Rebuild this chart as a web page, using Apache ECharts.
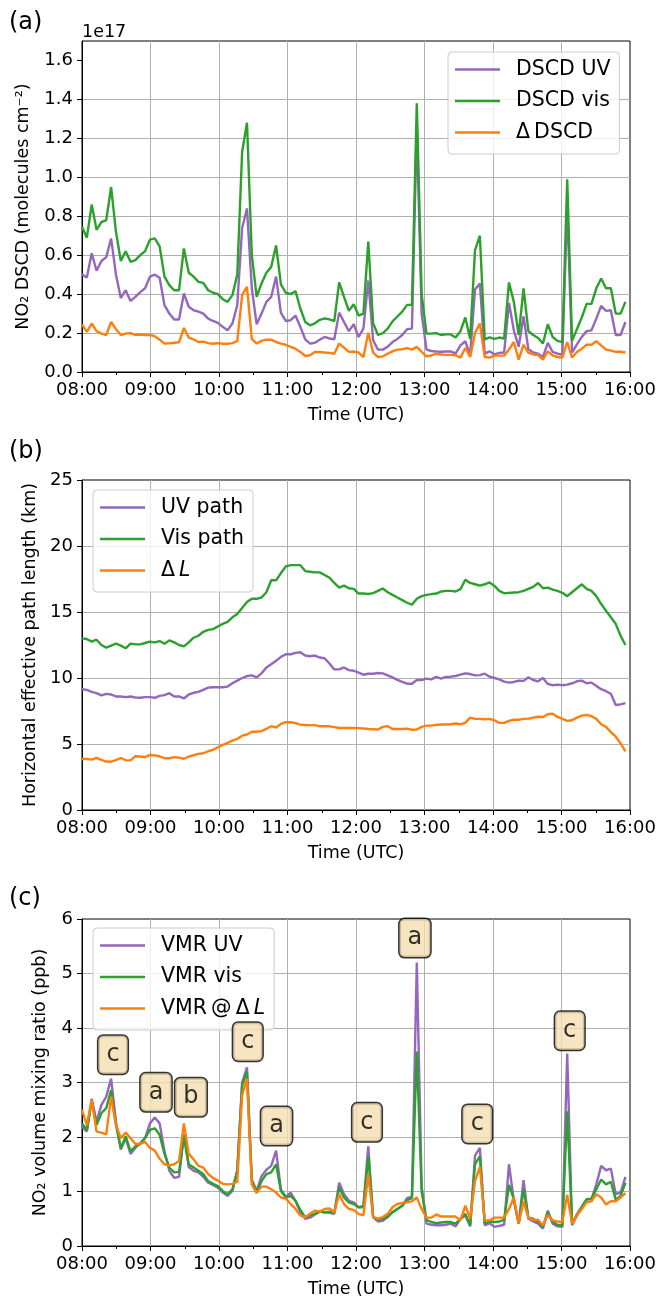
<!DOCTYPE html>
<html><head><meta charset="utf-8">
<script src="https://cdn.jsdelivr.net/npm/echarts@6/dist/echarts.min.js"></script>
<style>html,body{margin:0;padding:0;background:#fff}#c{width:659px;height:1299px}</style>
</head><body><div id="c"></div>
<script>
// ---- sampling grid: one scan every ~4.25 min from 08:00 ----
const STEP_MIN = 4.25;

// ---- panel (a): NO2 DSCD (1e17 molecules cm-2) ----
const dscdUV = [
0.50,0.485,0.61,0.52,0.57,0.59,0.686,0.50,0.38,0.42,
0.365,0.386,0.41,0.43,0.49,0.50,0.484,0.343,0.30,0.27,
0.27,0.403,0.335,0.317,0.31,0.30,0.274,0.262,0.252,0.232,
0.214,0.25,0.343,0.74,0.84,0.43,0.245,0.30,0.36,0.386,
0.49,0.304,0.262,0.266,0.29,0.232,0.168,0.146,0.15,0.166,
0.18,0.172,0.168,0.305,0.257,0.21,0.245,0.18,0.223,0.47,
0.163,0.115,0.115,0.13,0.154,0.17,0.19,0.22,0.223,1.26,
0.30,0.115,0.108,0.105,0.104,0.105,0.106,0.094,0.137,0.158,
0.086,0.424,0.455,0.094,0.106,0.09,0.098,0.10,0.355,0.214,
0.13,0.286,0.117,0.10,0.094,0.077,0.15,0.103,0.094,0.09,
0.85,0.10,0.142,0.18,0.21,0.214,0.274,0.34,0.314,0.317,
0.19,0.19,0.257];
const dscdVis = [
0.746,0.69,0.86,0.73,0.77,0.78,0.95,0.72,0.57,0.62,
0.566,0.575,0.60,0.62,0.68,0.686,0.645,0.49,0.446,0.42,
0.42,0.635,0.51,0.49,0.463,0.458,0.42,0.407,0.40,0.374,
0.36,0.395,0.50,1.13,1.28,0.60,0.386,0.455,0.51,0.54,
0.65,0.45,0.407,0.40,0.415,0.326,0.257,0.24,0.25,0.268,
0.275,0.27,0.262,0.46,0.386,0.314,0.348,0.29,0.30,0.67,
0.25,0.19,0.20,0.223,0.26,0.285,0.31,0.345,0.345,1.38,
0.40,0.197,0.197,0.20,0.19,0.193,0.193,0.177,0.21,0.28,
0.17,0.626,0.70,0.168,0.178,0.17,0.177,0.172,0.46,0.36,
0.19,0.43,0.21,0.19,0.175,0.146,0.245,0.18,0.16,0.153,
0.99,0.16,0.22,0.28,0.35,0.35,0.43,0.48,0.43,0.43,
0.30,0.30,0.36];
const dscdDelta = [
0.245,0.206,0.249,0.21,0.197,0.19,0.257,0.22,0.19,0.197,
0.20,0.19,0.192,0.19,0.19,0.184,0.166,0.146,0.147,0.15,
0.153,0.226,0.177,0.168,0.154,0.156,0.148,0.145,0.148,0.145,
0.145,0.148,0.158,0.395,0.437,0.17,0.146,0.16,0.166,0.166,
0.154,0.146,0.14,0.129,0.12,0.103,0.082,0.086,0.103,0.103,
0.10,0.098,0.094,0.146,0.125,0.103,0.105,0.10,0.077,0.202,
0.10,0.077,0.08,0.094,0.106,0.115,0.117,0.123,0.115,0.129,
0.103,0.08,0.085,0.094,0.09,0.088,0.088,0.086,0.074,0.123,
0.077,0.20,0.249,0.077,0.074,0.084,0.084,0.084,0.115,0.154,
0.063,0.14,0.098,0.09,0.087,0.063,0.106,0.085,0.077,0.074,
0.154,0.074,0.103,0.12,0.14,0.14,0.158,0.137,0.115,0.11,
0.103,0.105,0.10];

// ---- panel (b): horizontal effective path length (km) ----
const pathUV = [
9.15,9.1,8.95,8.85,8.68,8.8,8.75,8.6,8.6,8.55,
8.6,8.52,8.5,8.55,8.55,8.5,8.65,8.7,8.85,8.6,
8.6,8.45,8.75,8.88,8.95,9.1,9.27,9.3,9.3,9.3,
9.35,9.6,9.8,10.0,10.15,10.2,10.05,10.35,10.8,11.05,
11.3,11.6,11.8,11.8,11.9,11.95,11.7,11.65,11.7,11.55,
11.5,11.1,10.65,10.65,10.8,10.6,10.55,10.4,10.25,10.32,
10.32,10.38,10.35,10.2,10.05,9.85,9.7,9.57,9.57,9.85,
9.85,9.95,9.9,10.08,9.95,10.08,10.1,10.15,10.25,10.35,
10.3,10.2,10.22,10.33,10.1,10.0,9.9,9.72,9.65,9.7,
9.8,9.78,10.05,9.85,9.75,10.0,9.55,9.45,9.5,9.45,
9.5,9.6,9.75,9.8,9.6,9.65,9.4,9.15,9.0,8.8,
7.95,8.0,8.1];
const pathVis = [
13.0,12.95,12.76,12.9,12.5,12.3,12.45,12.6,12.45,12.25,
12.6,12.55,12.55,12.65,12.75,12.7,12.8,12.6,12.85,12.7,
12.5,12.4,12.7,13.05,13.2,13.5,13.65,13.7,13.9,14.1,
14.25,14.6,14.85,15.3,15.75,16.0,16.0,16.1,16.5,17.4,
17.4,17.95,18.45,18.55,18.55,18.55,18.1,18.05,18.0,18.0,
17.8,17.6,17.2,16.85,17.0,16.8,16.75,16.4,16.4,16.36,
16.43,16.6,16.78,16.5,16.3,16.1,15.9,15.7,15.55,16.0,
16.2,16.3,16.35,16.4,16.55,16.6,16.6,16.55,16.73,17.44,
17.2,17.1,17.0,17.1,17.24,16.98,16.6,16.42,16.45,16.48,
16.5,16.6,16.75,16.9,17.2,16.8,16.85,16.7,16.6,16.45,
16.2,16.5,16.8,17.1,16.75,16.6,16.2,15.6,15.1,14.6,
14.1,13.2,12.5];
const pathDelta = [
3.86,3.86,3.82,3.95,3.8,3.67,3.66,3.78,3.94,3.78,
3.76,4.07,4.05,4.0,4.17,4.14,4.07,3.92,3.92,4.0,
3.97,3.88,4.05,4.15,4.25,4.3,4.45,4.55,4.75,4.93,
5.08,5.25,5.38,5.63,5.72,5.93,5.93,5.98,6.15,6.35,
6.25,6.52,6.65,6.65,6.58,6.47,6.44,6.43,6.43,6.34,
6.34,6.34,6.28,6.21,6.21,6.21,6.21,6.2,6.17,6.14,
6.12,6.1,6.3,6.35,6.14,6.14,6.14,6.16,6.08,6.1,
6.3,6.39,6.39,6.45,6.48,6.48,6.5,6.55,6.5,6.6,
7.0,6.9,6.9,6.88,6.9,6.8,6.6,6.6,6.75,6.84,
6.84,6.9,6.92,7.0,7.06,7.05,7.25,7.3,7.05,6.9,
6.75,6.8,7.0,7.15,7.2,7.1,6.9,6.5,6.3,5.9,
5.55,5.05,4.45];

// ---- panel (c): NO2 volume mixing ratio (ppb) ----
const vmrUV = [
2.19,2.1,2.7,2.28,2.59,2.74,3.07,2.28,1.77,1.98,
1.69,1.8,1.89,1.98,2.25,2.36,2.25,1.74,1.38,1.25,
1.27,2.05,1.45,1.38,1.35,1.27,1.16,1.12,1.07,0.98,
0.92,1.01,1.4,3.0,3.28,1.22,1.01,1.28,1.4,1.47,
1.75,1.04,0.9,0.98,0.83,0.62,0.5,0.52,0.58,0.63,
0.62,0.61,0.59,1.16,0.95,0.83,0.8,0.71,0.74,1.83,
0.53,0.45,0.46,0.53,0.62,0.68,0.74,0.88,0.9,5.2,
1.1,0.41,0.39,0.38,0.38,0.39,0.41,0.36,0.5,0.56,
0.36,1.66,1.8,0.38,0.42,0.35,0.37,0.39,1.5,0.83,
0.41,1.21,0.5,0.45,0.41,0.32,0.65,0.41,0.36,0.35,
3.53,0.38,0.56,0.71,0.85,0.86,1.13,1.47,1.39,1.42,
0.95,0.98,1.27];
const vmrVis = [
2.25,2.13,2.65,2.22,2.44,2.53,2.86,2.22,1.8,2.01,
1.74,1.83,1.87,1.98,2.13,2.16,2.04,1.69,1.44,1.35,
1.36,2.01,1.5,1.44,1.38,1.32,1.19,1.14,1.1,1.01,
0.95,1.04,1.37,2.95,3.19,1.19,0.98,1.19,1.32,1.35,
1.5,1.01,0.89,0.92,0.83,0.66,0.53,0.56,0.59,0.63,
0.62,0.63,0.62,1.07,0.89,0.8,0.77,0.71,0.71,1.65,
0.53,0.48,0.5,0.54,0.62,0.68,0.74,0.84,0.88,3.57,
1.0,0.48,0.44,0.42,0.43,0.44,0.44,0.41,0.5,0.59,
0.38,1.5,1.65,0.41,0.45,0.44,0.45,0.48,1.12,0.86,
0.41,1.04,0.52,0.5,0.44,0.35,0.62,0.44,0.39,0.38,
2.47,0.41,0.58,0.72,0.86,0.87,1.04,1.22,1.13,1.18,
0.85,0.92,1.16];
const vmrDelta = [
2.5,2.22,2.68,2.1,2.08,2.05,2.74,2.22,1.98,2.08,
1.98,1.87,1.88,1.91,1.8,1.75,1.6,1.5,1.48,1.5,
1.56,2.25,1.69,1.59,1.47,1.44,1.32,1.25,1.2,1.14,
1.13,1.14,1.18,2.77,3.07,1.13,0.97,1.09,1.09,1.04,
0.98,0.89,0.87,0.77,0.68,0.56,0.53,0.59,0.65,0.63,
0.68,0.69,0.62,0.95,0.77,0.68,0.66,0.59,0.56,1.32,
0.53,0.5,0.53,0.59,0.71,0.77,0.79,0.8,0.82,0.89,
0.68,0.52,0.52,0.58,0.54,0.54,0.54,0.54,0.47,0.74,
0.5,1.19,1.45,0.47,0.47,0.52,0.52,0.52,0.68,0.89,
0.41,0.82,0.52,0.48,0.48,0.38,0.57,0.47,0.45,0.44,
0.94,0.41,0.56,0.68,0.8,0.82,0.95,0.89,0.76,0.82,
0.82,0.89,0.97];

// ---- annotation boxes in panel (c) ----
const annTimes  = [8.4525, 9.08, 9.59, 10.42, 10.84, 12.16, 12.86, 13.77, 15.12];
const annValues = [3.51, 2.82, 2.73, 3.75, 2.2, 2.27, 5.65, 2.24, 3.95];
const annLabels = ['c','a','b','c','a','c','a','c','c'];

// ---- tick labels ----
const yTicksA = [0, 0.2, 0.4, 0.6, 0.8, 1.0, 1.2, 1.4, 1.6];

const times = dscdUV.map((_, i) => 8 + i * STEP_MIN / 60);
const pair = arr => arr.map((v, i) => [times[i], v]);

const FONT = 'DejaVu Sans';
const C_UV = '#9467bd', C_VIS = '#2ca02c', C_D = '#ff7f0e';
const GRID_TOPS = [41, 480, 919];
const GRID_H = [331, 330, 330];

const grid = GRID_TOPS.map((t, i) => ({
  left: 82, top: t, width: 548, height: GRID_H[i],
  show: true, borderColor: '#000', borderWidth: 1, backgroundColor: 'transparent'
}));

const hh = v => (v < 10 ? '0' : '') + Math.round(v) + ':00';
const xAxis = [0,1,2].map(g => ({
  type: 'value', gridIndex: g, min: 8, max: 16, interval: 1,
  name: 'Time (UTC)', nameLocation: 'middle', nameGap: 34,
  nameTextStyle: { fontFamily: FONT, fontSize: 17.5, color: '#000' },
  axisLine: { show: true, onZero: false, lineStyle: { color: '#000', width: 1 } },
  axisTick: { show: true, length: 5, lineStyle: { color: '#000', width: 1 } },
  minorTick: { show: true, splitNumber: 2, length: 3, lineStyle: { color: '#000', width: 1 } },
  axisLabel: { formatter: hh, fontFamily: FONT, fontSize: 18, color: '#000', margin: 9 },
  splitLine: { show: true, showMinLine: false, showMaxLine: false, lineStyle: { color: '#b0b0b0', width: 1 } }
}));

const yCommon = (g, max, interval, name, gap, fmt) => ({
  type: 'value', gridIndex: g, min: 0, max, interval,
  name, nameLocation: 'middle', nameGap: gap,
  nameTextStyle: { fontFamily: FONT, fontSize: 17.5, color: '#000' },
  axisLine: { show: true, onZero: false, lineStyle: { color: '#000', width: 1 } },
  axisTick: { show: true, length: 5, lineStyle: { color: '#000', width: 1 } },
  axisLabel: { formatter: fmt, fontFamily: FONT, fontSize: 18, color: '#000', margin: 9 },
  splitLine: { show: true, showMinLine: false, showMaxLine: false, lineStyle: { color: '#b0b0b0', width: 1 } }
});
const yA = yCommon(0, 1.7, 0.2, 'NO\u2082 DSCD (molecules cm\u207B\u00B2)', 50, v => v.toFixed(1));
yA.axisTick.customValues = yTicksA;
yA.axisLabel.customValues = yTicksA;
const yAxis = [
  yA,
  yCommon(1, 25, 5, 'Horizontal effective path length (km)', 43, v => String(Math.round(v))),
  yCommon(2, 6, 1, 'NO\u2082 volume mixing ratio (ppb)', 33, v => String(Math.round(v)))
];

const line = (name, arr, color, g) => ({
  type: 'line', name, data: pair(arr), xAxisIndex: g, yAxisIndex: g,
  showSymbol: false, symbol: 'none', animation: false, clip: true,
  lineStyle: { color, width: 2.4 }, itemStyle: { color }
});

const legendBase = (g, names, left, top) => ({
  data: names, orient: 'vertical', left, top,
  icon: 'rect', itemWidth: 45, itemHeight: 2.5, itemGap: 10.5,
  padding: [7, 9, 11, 7],
  backgroundColor: 'rgba(255,255,255,0.8)', borderColor: '#cccccc', borderWidth: 1, borderRadius: 4,
  selectedMode: false,
  formatter: n => n.replace('\u0394L', '\u0394\u2009{i|L}'),
  textStyle: { fontFamily: FONT, fontSize: 20.5, color: '#000', lineHeight: 20, padding: [0, 0, 0, 11],
    rich: { i: { fontFamily: FONT, fontSize: 20.5, fontStyle: 'italic', color: '#000', lineHeight: 20 } } }
});

const option = {
  animation: false,
  backgroundColor: '#fff',
  grid, xAxis, yAxis,
  legend: [
    legendBase(0, ['DSCD UV', 'DSCD vis', '\u0394\u2009DSCD'], 448, 52),
    legendBase(1, ['UV path', 'Vis path', '\u0394L'], 93, 490),
    legendBase(2, ['VMR UV', 'VMR vis', 'VMR\u2009@\u2009\u0394L'], 93, 928)
  ],
  graphic: [
    { type: 'text', left: 9, top: 11, style: { text: '(a)', font: '24px "DejaVu Sans"', fill: '#000' } },
    { type: 'text', left: 9, top: 440, style: { text: '(b)', font: '24px "DejaVu Sans"', fill: '#000' } },
    { type: 'text', left: 9, top: 887, style: { text: '(c)', font: '24px "DejaVu Sans"', fill: '#000' } },
    { type: 'text', left: 82, top: 23, style: { text: '1e17', font: '17.5px "DejaVu Sans"', fill: '#000' } }
  ],
  series: [
    line('DSCD UV', dscdUV, C_UV, 0),
    line('DSCD vis', dscdVis, C_VIS, 0),
    line('\u0394\u2009DSCD', dscdDelta, C_D, 0),
    line('UV path', pathUV, C_UV, 1),
    line('Vis path', pathVis, C_VIS, 1),
    line('\u0394L', pathDelta, C_D, 1),
    line('VMR UV', vmrUV, C_UV, 2),
    line('VMR vis', vmrVis, C_VIS, 2),
    line('VMR\u2009@\u2009\u0394L', vmrDelta, C_D, 2),
    {
      type: 'scatter', xAxisIndex: 2, yAxisIndex: 2, symbol: 'circle', symbolSize: 0,
      silent: true, animation: false, z: 10,
      data: annTimes.map((t, i) => ({ value: [t, annValues[i]], name: annLabels[i] })),
      label: {
        show: true, position: 'inside', formatter: p => p.name,
        fontFamily: FONT, fontSize: 24, color: '#000', lineHeight: 30,
        backgroundColor: '#f5deb3', borderColor: '#000', borderWidth: 1.5, borderRadius: 5,
        padding: [4, 8, 4, 8]
      }
    }
  ]
};

const chart = echarts.init(document.getElementById('c'), null, { renderer: 'canvas', width: 659, height: 1299 });
chart.setOption(option);
</script></body></html>
